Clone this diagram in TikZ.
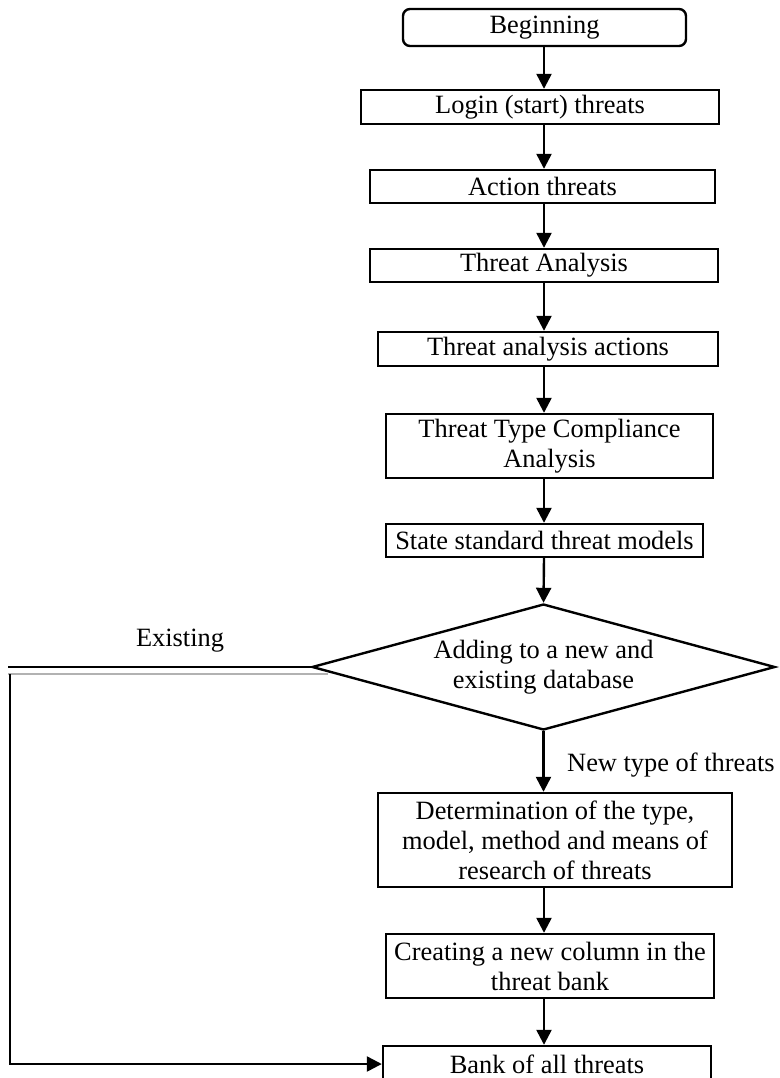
\documentclass[tikz,border=0pt]{standalone}
\usepackage{fontspec}
\setmainfont{Liberation Serif}
\usetikzlibrary{shapes.geometric,arrows.meta}

\tikzset{
  txt/.style={font=\fontsize{26.4}{30}\selectfont},
  procbox/.style={draw, rectangle, line width=2.4pt, inner sep=0pt, align=center, txt},
  startbox/.style={procbox, rounded corners=7pt},
  decision/.style={draw, diamond, aspect=3.67, line width=2.4pt, inner sep=0pt, align=center, txt},
  flow/.style={line width=2.4pt, -{Triangle[length=15pt,width=15pt]}},
  plain/.style={line width=2.4pt},
  edgelabel/.style={txt, inner sep=0pt}
}

\begin{document}
\begin{tikzpicture}[x=1pt, y=-1pt]
\useasboundingbox (0,0) rectangle (779,1078);

% Define nodes
\path
(544.5,27.5) node[startbox, minimum width=283pt, minimum height=37pt] (begin) {Beginning}
(540,107) node[procbox, minimum width=358pt, minimum height=34pt] (login) {Login (start) threats}
(542.5,186.5) node[procbox, minimum width=345pt, minimum height=33pt] (action) {Action threats}
(544,265.5) node[procbox, minimum width=348pt, minimum height=33pt] (analysis) {Threat Analysis}
(548,349) node[procbox, minimum width=340pt, minimum height=34pt] (actions) {Threat analysis actions}
(549.5,446) node[procbox, minimum width=327pt, minimum height=64pt] (compliance) {Threat Type Compliance\\Analysis}
(544.5,540.5) node[procbox, minimum width=317pt, minimum height=33pt] (standard) {State standard threat models}
(543.5,667) node[decision, minimum width=463pt, minimum height=126pt] (dbase) {Adding to a new and\\existing database}
(555,840) node[procbox, minimum width=354pt, minimum height=94pt] (determ) {Determination of the type,\\model, method and means of\\research of threats}
(550,966) node[procbox, minimum width=328pt, minimum height=64pt] (column) {Creating a new column in the\\threat bank}
(547,1064) node[procbox, minimum width=328pt, minimum height=36pt] (bank) {Bank of all threats}
;

\coordinate (axis) at (544,0);
\coordinate (exist-end) at (8,667);
\coordinate (grey-left) at (8,674);
\coordinate (grey-right) at (328,674);
\coordinate (loop-top) at (10,674);

\node[edgelabel] (existing) at (180,641) {Existing};
\node[edgelabel, anchor=west] (newtype) at (567,765) {New type of threats};

% Main flow
\draw[flow] (begin.south -| axis) -- (login.north -| axis);
\draw[flow] (login.south -| axis) -- (action.north -| axis);
\draw[flow] (action.south -| axis) -- (analysis.north -| axis);
\draw[flow] (analysis.south -| axis) -- (actions.north -| axis);
\draw[flow] (actions.south -| axis) -- (compliance.north -| axis);
\draw[flow] (compliance.south -| axis) -- (standard.north -| axis);
\draw[flow] (standard.south -| axis) -- (dbase.north);
\draw[flow] (dbase.south) -- (determ.north -| dbase.south);
\draw[flow] (determ.south -| axis) -- (column.north -| axis);
\draw[flow] (column.south -| axis) -- (bank.north -| axis);

% Existing branch
\draw[plain] (dbase.west) -- (exist-end);
\draw[line width=2.4pt, gray!60] (grey-left) -- (grey-right);
\draw[flow] (loop-top) |- (bank.west);

\end{tikzpicture}
\end{document}
